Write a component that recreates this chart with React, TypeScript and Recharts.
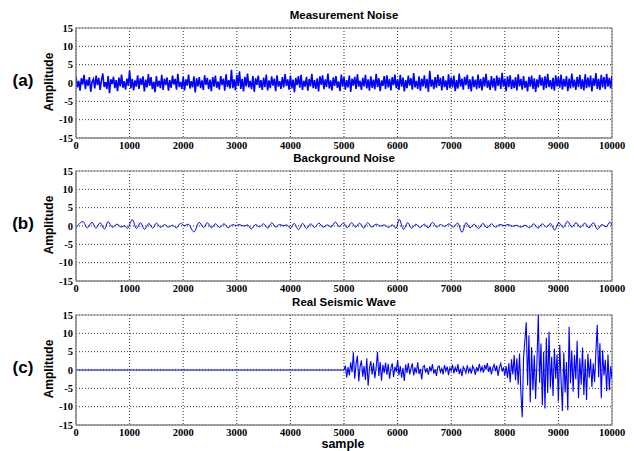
import React from "react";
import { LineChart, Line, XAxis, YAxis, CartesianGrid, ReferenceArea } from "recharts";

// sample index spacing of the typed noise values
const NOISE_STEP = 25;

const SAMPLE_TICKS = [0, 1000, 2000, 3000, 4000, 5000, 6000, 7000, 8000, 9000, 10000];
const AMPLITUDE_TICKS = [-15, -10, -5, 0, 5, 10, 15];

// (a) measurement noise, one value every 25 samples from 0 to 10000
const measurementNoise = [
    1.8, -1.2, 0.6, -2.1, 1.3, -0.4, 2.2, -1.7, 0.9, -0.8, 1.6, -2.4, 0.3, 1.1, -1.5, 2.0, -0.6, 1.4, -1.9, 0.7,
    2.6, -1.1, 0.2, -1.6, 1.9, -2.8, 1.0, -0.3, 1.7, -1.4, 0.8, -2.2, 1.5, -0.9, 2.3, -1.3, 0.5, -1.8, 1.2, -0.7,
    3.4, -1.5, 1.1, -2.0, 0.7, -1.0, 2.1, -1.6, 1.3, -0.5, 1.8, -2.3, 0.9, -1.2, 2.4, -0.8, 1.6, -1.7, 0.4, -2.5,
    1.9, -1.0, 0.6, -1.4, 2.2, -1.9, 1.2, -0.6, 1.5, -2.1, 0.8, -1.3, 2.0, -0.4, 1.1, -1.8, 2.5, -1.1, 0.3, -1.6,
    1.7, -2.0, 1.0, -0.7, 2.3, -1.5, 0.5, -1.2, 1.8, -2.6, 1.3, -0.9, 1.6, -1.4, 0.7, -1.9, 2.1, -0.5, 1.4, -1.7,
    0.9, -2.2, 1.6, -1.0, 2.0, -1.3, 0.4, -1.8, 1.9, -0.6, 1.2, -2.1, 2.4, -1.1, 0.8, -1.5, 3.6, -1.4, 1.0, -2.0,
    2.2, -0.8, 3.2, -1.6, 1.1, -2.3, 1.7, -0.9, 2.6, -1.2, 0.6, -1.7, 1.9, -2.4, 1.3, -0.5, 2.0, -1.3, 0.8, -1.9,
    1.5, -1.1, 2.3, -2.0, 0.7, -1.4, 1.8, -0.7, 1.2, -2.2, 2.1, -1.0, 0.5, -1.6, 1.6, -1.2, 2.4, -0.8, 1.0, -1.8,
    2.0, -1.5, 0.9, -2.5, 1.4, -0.6, 1.9, -1.3, 2.2, -1.9, 0.6, -1.0, 1.7, -2.1, 1.1, -0.9, 2.5, -1.4, 0.8, -1.6,
    1.3, -2.3, 1.8, -0.5, 2.1, -1.7, 1.0, -1.1, 2.6, -1.5, 0.7, -2.0, 1.5, -0.8, 1.9, -1.3, 0.4, -2.2, 2.3, -1.0,
    1.6, -1.8, 0.8, -1.2, 2.0, -2.4, 1.2, -0.7, 1.7, -1.6, 2.4, -1.0, 0.6, -1.9, 1.4, -0.9, 2.2, -1.5, 1.0, -2.1,
    1.8, -1.3, 0.9, -1.7, 2.5, -1.1, 1.3, -2.2, 0.7, -0.8, 1.9, -1.6, 2.1, -1.2, 1.1, -2.0, 1.6, -0.6, 2.3, -1.4,
    1.0, -1.9, 2.2, -1.0, 1.5, -2.3, 0.8, -1.4, 2.0, -0.7, 1.3, -1.8, 2.7, -1.2, 0.6, -1.6, 1.8, -2.1, 1.2, -0.9,
    2.1, -1.5, 1.1, -2.4, 3.3, -1.0, 0.9, -1.7, 1.6, -1.3, 2.3, -0.8, 1.4, -2.0, 1.9, -1.1, 0.7, -1.9, 2.4, -1.4,
    1.5, -1.2, 2.0, -2.2, 0.8, -1.5, 2.6, -1.0, 1.2, -1.8, 1.7, -0.6, 2.2, -1.6, 1.0, -2.3, 1.8, -1.1, 0.9, -1.7,
    2.3, -1.4, 1.1, -2.0, 1.6, -0.9, 2.5, -1.3, 0.7, -1.9, 1.9, -1.2, 1.3, -2.1, 2.0, -0.8, 1.5, -1.6, 2.8, -1.0,
    1.2, -2.2, 1.8, -1.1, 2.1, -1.7, 0.9, -1.4, 1.6, -2.0, 2.4, -0.9, 1.1, -1.8, 1.9, -1.3, 0.6, -2.3, 1.7, -1.0,
    2.0, -1.6, 1.3, -2.4, 1.0, -1.2, 2.2, -0.7, 1.5, -1.9, 1.8, -1.4, 2.5, -1.1, 0.8, -1.7, 1.4, -2.1, 2.1, -0.9,
    1.6, -1.3, 2.3, -1.8, 1.1, -1.0, 1.9, -2.2, 1.2, -1.5, 2.6, -1.2, 0.9, -1.9, 1.7, -1.1, 2.2, -1.6, 1.0, -2.0,
    2.4, -1.4, 1.5, -1.1, 2.0, -2.3, 1.3, -0.8, 2.7, -1.6, 1.1, -1.9, 2.2, -1.2, 1.6, -1.7, 2.5, -1.0, 1.4, -1.5,
    1.9,
];

const backgroundExtrema: [number, number][] = [
    [0, -0.5], [130, 1.2], [210, -0.5], [300, 1.0], [370, -0.6], [450, 0.9], [530, -0.8], [600, 1.2],
    [680, -0.4], [760, 0.5], [850, -0.3], [900, 0.1], [960, -0.6], [1050, 1.7], [1130, -0.7], [1200, 0.9],
    [1280, -0.9], [1360, 0.7], [1430, -0.6], [1500, 0.8], [1580, -0.4], [1650, 0.4], [1720, -0.3], [1800, 0.2],
    [1870, -0.5], [1950, 0.7], [2030, 0.1], [2090, 0.5], [2200, -1.6], [2300, 1.0], [2380, -0.4], [2450, 0.9],
    [2530, -0.5], [2600, 0.6], [2680, -0.4], [2760, 0.6], [2840, -0.5], [2920, 0.4], [2990, 0.1], [3040, 0.4],
    [3130, 0.0], [3200, 0.3], [3270, -0.8], [3350, 0.4], [3420, -0.2], [3500, 0.6], [3580, -0.6], [3650, 0.9],
    [3730, -0.3], [3800, 0.4], [3870, 0.1], [3930, 0.3], [4000, -0.6], [4070, 0.7], [4150, -1.0], [4230, 0.7],
    [4300, -0.7], [4380, 0.6], [4450, -0.4], [4530, 0.8], [4610, -0.3], [4690, 0.3], [4760, -0.3], [4840, 1.1],
    [4910, -0.2], [4990, 0.8], [5060, -0.5], [5140, 0.9], [5220, -0.3], [5290, 0.8], [5370, -0.6], [5440, 0.9],
    [5520, -0.3], [5600, 0.5], [5680, 0.0], [5750, 0.3], [5830, -0.4], [5900, 0.3], [5970, -0.6], [6030, 1.8],
    [6110, -0.9], [6190, 0.9], [6260, -0.6], [6340, 0.5], [6420, -0.4], [6500, 0.5], [6570, -0.5], [6650, 1.0],
    [6730, -0.3], [6800, 0.4], [6880, -0.1], [6960, 0.6], [7040, -0.3], [7120, 0.8], [7200, -1.7], [7280, 0.9],
    [7350, -0.5], [7430, 0.5], [7510, -0.7], [7590, 0.7], [7670, -0.5], [7750, 0.6], [7830, -0.3], [7910, 0.4],
    [7990, 0.1], [8060, 0.4], [8140, -0.1], [8220, 0.2], [8300, -0.3], [8380, 0.2], [8460, -0.5], [8540, 0.6],
    [8620, -0.6], [8700, 0.6], [8780, -0.3], [8850, 0.7], [8930, -1.1], [9010, 0.9], [9090, -0.4], [9170, 1.3],
    [9250, -0.3], [9330, 0.9], [9410, -0.4], [9490, 0.8], [9570, -0.5], [9650, 0.9], [9730, -0.9], [9810, 0.4],
    [9890, -0.2], [9960, 1.0], [10000, 0.2],
];

// (c) real seismic wave: flat until the onset, then one value every 25 samples
const SEISMIC_ONSET = 5000;
const seismicWave = [
    0.0, 1.2, -2.0, 0.8, -1.5, 2.1, -0.6, 4.8, -2.4, 1.6, 3.9, -3.1, 0.9, 2.6, -1.8, 1.1, -2.7, 3.2, -4.3, 0.5,
    2.4, -1.2, 1.9, -2.2, 0.7, 4.9, -1.6, 2.2, -2.9, 1.4, -0.8, 2.0, -1.3, 1.7, -2.4, 0.6, 1.8, -1.9, 0.9, -0.5,
    2.7, -1.4, 1.1, -2.1, 0.6, -3.0, 1.5, -0.8, 1.9, -1.2, 0.4, 1.8, -1.5, 0.7, -0.9, 2.1, -1.1, 0.3, -2.6, 0.9,
    1.2, -0.7, 0.5, -1.3, 1.0, -0.4, 1.6, -1.0, 0.2, -1.6, 0.8, 1.1, -0.6, 0.4, -1.2, 1.3, -0.3, 0.9, -1.4, 0.6,
    -0.2, 1.4, -0.9, 0.7, -0.5, 1.6, -1.1, 0.4, -1.7, 0.9, 0.2, -0.8, 1.3, -0.6, 0.5, -1.0, 1.1, 0.3, -1.3, 0.8,
    -0.4, 1.7, -0.2, 0.9, -0.7, 1.4, 0.1, 1.9, -0.5, 1.0, -1.2, 0.6, 1.5, -0.3, 1.2, -1.6, 0.8, 1.8, -0.4, 0.7,
    -1.5, 1.1, -2.2, 1.8, -3.4, 2.9, -1.2, 4.1, -2.8, 3.2, -4.0, 4.5, -6.0, -12.9, 3.5, 8.0, 13.0, -4.2, 9.5, -8.8,
    6.2, -5.5, 4.0, -7.9, 2.5, 15.0, -3.5, 7.2, -9.6, 5.0, -10.5, 8.8, -6.3, 10.4, -4.8, 3.6, -7.1, 5.8, -2.4, 4.3,
    -8.5, 6.9, -3.0, -11.2, 4.8, -6.1, 2.2, -11.0, 11.8, -3.6, 5.3, -5.9, 4.1, -2.5, 8.0, -7.7, 3.2, -4.0, 6.1, -6.8,
    2.9, -8.2, 4.4, -2.1, 3.0, -4.6, 1.8, -3.3, 5.2, 12.3, -2.0, 7.3, -7.7, 5.4, -1.5, 2.8, -5.8, 4.2, -5.5, 1.0,
    -2.3, 1.2,
];

const noiseRows = measurementNoise.map((v, i) => ({ sample: i * NOISE_STEP, value: v }));
const backgroundRows = backgroundExtrema.map(([s, v]) => ({ sample: s, value: v }));
const seismicRows = [
    { sample: 0, value: 0 },
    ...seismicWave.map((v, i) => ({ sample: SEISMIC_ONSET + i * NOISE_STEP, value: v })),
];

const TICK_STYLE = { fontFamily: "Liberation Serif", fontWeight: 700, fontSize: 10.5, fill: "#000" };
const SANS = "'Liberation Sans', Arial, sans-serif";

type Row = { sample: number; value: number };

function Panel({ top, tag, title, rows, smooth, lineWidth = 1 }: {
    top: number; tag: string; title: string; rows: Row[]; smooth?: boolean; lineWidth?: number;
}) {
    return (
        <div style={{ position: "absolute", left: 0, top, width: 634, height: 150 }}>
            <LineChart width={634} height={150} data={rows} margin={{ top: 28, right: 22, left: 0, bottom: 0 }}>
                <CartesianGrid stroke="#333" strokeDasharray="1 2" strokeWidth={1} />
                <XAxis
                    type="number"
                    dataKey="sample"
                    domain={[0, 10000]}
                    ticks={SAMPLE_TICKS}
                    interval={0}
                    height={12}
                    tickSize={0}
                    tickMargin={4}
                    tick={TICK_STYLE}
                    axisLine={{ stroke: "#888" }}
                    allowDataOverflow
                />
                <YAxis
                    type="number"
                    domain={[-15, 15]}
                    ticks={AMPLITUDE_TICKS}
                    interval={0}
                    width={76}
                    tickSize={0}
                    tickMargin={3}
                    tick={TICK_STYLE}
                    axisLine={{ stroke: "#888" }}
                    allowDataOverflow
                />
                <ReferenceArea x1={0} x2={10000} y1={-15} y2={15} fill="none" stroke="#888" strokeWidth={1.2} />
                <Line
                    type={smooth ? "monotone" : "linear"}
                    dataKey="value"
                    stroke="#0000ff"
                    strokeWidth={lineWidth}
                    dot={false}
                    isAnimationActive={false}
                />
            </LineChart>
            <div
                style={{
                    position: "absolute", left: 344, top: 15, transform: "translate(-50%,-50%)",
                    fontFamily: SANS, fontWeight: 700, fontSize: 11.5, whiteSpace: "nowrap",
                }}
            >
                {title}
            </div>
            <div
                style={{
                    position: "absolute", left: 49, top: 82, transform: "translate(-50%,-50%) rotate(-90deg)",
                    fontFamily: SANS, fontWeight: 700, fontSize: 12, whiteSpace: "nowrap",
                }}
            >
                Amplitude
            </div>
            <div
                style={{
                    position: "absolute", left: 23, top: 81, transform: "translate(-50%,-50%)",
                    fontFamily: SANS, fontWeight: 700, fontSize: 17, whiteSpace: "nowrap",
                }}
            >
                {tag}
            </div>
        </div>
    );
}

export default function App() {
    return (
        <div style={{ position: "absolute", left: 0, top: 0, width: 634, height: 451, background: "#fff" }}>
            <Panel top={0} tag="(a)" title="Measurement Noise" rows={noiseRows} lineWidth={1.6} />
            <Panel top={143} tag="(b)" title="Background Noise" rows={backgroundRows} smooth />
            <Panel top={287} tag="(c)" title="Real Seismic Wave" rows={seismicRows} lineWidth={1.1} />
            <div
                style={{
                    position: "absolute", left: 343, top: 444, transform: "translate(-50%,-50%)",
                    fontFamily: SANS, fontWeight: 700, fontSize: 12.5, whiteSpace: "nowrap",
                }}
            >
                sample
            </div>
        </div>
    );
}
